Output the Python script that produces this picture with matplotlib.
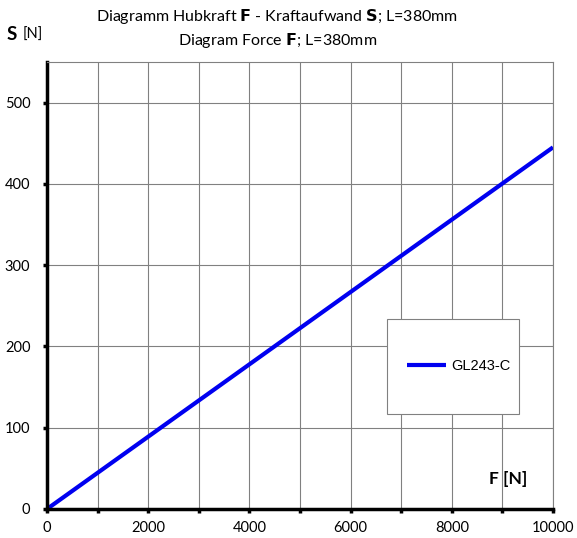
import matplotlib.pyplot as plt
from matplotlib.ticker import MultipleLocator
from matplotlib.patches import Rectangle

# data
force = [0, 10000]
effort = [0, 445]
series_name = "GL243-C"

x_ticks = [0, 2000, 4000, 6000, 8000, 10000]
y_ticks = [0, 100, 200, 300, 400, 500]

fig = plt.figure(figsize=(5.77, 5.38), dpi=100)
ax = fig.add_axes([47 / 577, 1 - 509 / 538, (553 - 47) / 577, (509 - 62) / 538])

ax.plot(force, effort, color="#0000f0", linewidth=3, label=series_name, solid_capstyle="butt")

ax.set_xlim(0, 10000)
ax.set_ylim(0, 550)
ax.set_xticks(x_ticks)
ax.xaxis.set_minor_locator(MultipleLocator(1000))
ax.set_yticks(y_ticks)
ax.grid(True, which="both", axis="x", color="#808080", linewidth=0.8)
ax.grid(True, which="major", axis="y", color="#808080", linewidth=0.8)
ax.set_axisbelow(True)

for side in ["top", "right"]:
    ax.spines[side].set_color("#808080")
    ax.spines[side].set_linewidth(0.8)
for side in ["left", "bottom"]:
    ax.spines[side].set_color("black")
    ax.spines[side].set_linewidth(2.5)

ax.tick_params(axis="both", which="both", direction="out", length=3, width=2.5,
               color="black", labelsize=10.5)
ax.tick_params(axis="x", which="both", pad=6)
ax.tick_params(axis="y", pad=9)
for lab in ax.get_xticklabels() + ax.get_yticklabels():
    lab.set_family("Lato")

fig.text(277 / 577, 1 - 17 / 538, "Diagramm Hubkraft $\\bf{F}$ - Kraftaufwand $\\bf{S}$; L=380mm",
         ha="center", va="center", fontsize=11.5, family="Lato")
fig.text(278 / 577, 1 - 41 / 538, "Diagram Force $\\bf{F}$; L=380mm",
         ha="center", va="center", fontsize=11.5, family="Lato")

fig.text(7 / 577, 1 - 34 / 538, "S", ha="left", va="center", fontsize=13.5,
         fontweight="bold", family="Lato")
fig.text(23 / 577, 1 - 35 / 538, "[N]", ha="left", va="center", fontsize=10.5, family="Lato")

ax.text((527 - 47) / 506, (509 - 479) / 447, "F [N]", transform=ax.transAxes, ha="right",
        va="center", fontsize=12.5, fontweight="bold", family="Lato")

# legend frame drawn by hand to match the box size
ax.add_patch(Rectangle(((387 - 47) / 506, (509 - 414) / 447), 132 / 506, 95 / 447,
                       transform=ax.transAxes, facecolor="white", edgecolor="#808080",
                       linewidth=0.8, zorder=4))
leg = ax.legend(loc="center left", bbox_to_anchor=((407 - 47) / 506, (509 - 366) / 447),
                frameon=False, prop={"family": "Liberation Sans", "size": 10.5},
                handlelength=2.7, handletextpad=0.3, borderpad=0, borderaxespad=0)
leg.set_zorder(5)

fig.savefig("out.png", dpi=100)
